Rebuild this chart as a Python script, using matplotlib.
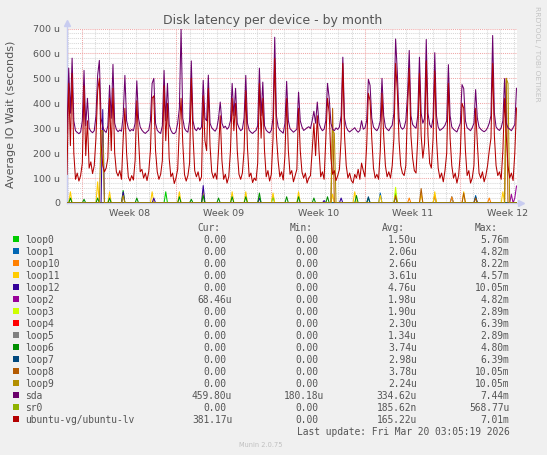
import numpy as np
import matplotlib
matplotlib.use('Agg')
import matplotlib.pyplot as plt
from matplotlib.patches import Rectangle

# ---------------- data ----------------
title = "Disk latency per device - by month"
ylabel = "Average IO Wait (seconds)"
week_labels = ["Week 08", "Week 09", "Week 10", "Week 11", "Week 12"]
ytick_vals = [0, 100, 200, 300, 400, 500, 600, 700]
ytick_labels = ["0", "100 u", "200 u", "300 u", "400 u", "500 u", "600 u", "700 u"]

# sda (3-hour samples, microseconds), one row per day
sda = [
    280, 541, 360, 581, 330, 290, 283, 278,
    285, 330, 532, 310, 420, 300, 288, 282,
    290, 350, 512, 572, 340, 305, 290, 283,
    310, 472, 340, 556, 320, 295, 286, 293,
    288, 350, 512, 330, 300, 288, 295, 290,
    320, 490, 340, 305, 292, 284, 279, 286,
    292, 330, 480, 500, 320, 292, 284, 279,
    310, 532, 330, 480, 315, 292, 280, 278,
    286, 320, 380, 700, 340, 300, 289, 284,
    330, 570, 330, 298, 290, 302, 294, 305,
    492, 340, 330, 513, 320, 302, 294, 288,
    300, 340, 405, 320, 302, 308, 296, 304,
    330, 480, 350, 460, 320, 302, 290, 296,
    340, 512, 320, 292, 284, 279, 286, 291,
    310, 541, 350, 485, 310, 292, 285, 281,
    292, 340, 665, 350, 305, 292, 286, 280,
    320, 488, 330, 298, 291, 284, 290, 296,
    445, 330, 305, 291, 296, 302, 306, 299,
    330, 368, 320, 405, 320, 301, 290, 296,
    330, 480, 420, 320, 296, 290, 301, 295,
    305, 350, 585, 340, 305, 291, 285, 291,
    296, 302, 291, 284, 291, 330, 296, 301,
    330, 496, 472, 340, 305, 296, 290, 302,
    330, 500, 350, 305, 296, 290, 302, 312,
    360, 658, 525, 340, 305, 296, 302, 330,
    435, 612, 350, 315, 306, 300, 350, 585,
    360, 320, 340, 656, 360, 315, 302, 340,
    603, 350, 305, 291, 296, 302, 312, 330,
    555, 350, 305, 296, 290, 285, 302, 320,
    475, 459, 330, 302, 296, 290, 302, 320,
    455, 340, 305, 296, 290, 286, 291, 302,
    320, 350, 672, 360, 305, 296, 291, 302,
    330, 499, 320, 302, 296, 290, 302, 315,
    460,
]

# ubuntu-vg/ubuntu-lv (3-hour samples, microseconds), one row per day
ubuntu_lv = [
    115, 480, 230, 520, 200, 95, 120, 88,
    110, 160, 470, 190, 330, 140, 165, 118,
    150, 260, 450, 500, 240, 150, 125, 140,
    180, 420, 210, 460, 200, 125, 108, 130,
    95, 260, 380, 200, 105, 88, 110, 92,
    170, 410, 260, 125, 135, 100, 120, 90,
    125, 210, 420, 430, 210, 125, 95, 115,
    170, 470, 250, 400, 180, 105, 120, 78,
    100, 135, 300, 420, 240, 115, 88, 110,
    160, 500, 270, 130, 105, 125, 88, 105,
    430, 250, 210, 460, 230, 125, 100, 120,
    95, 210, 350, 170, 95, 115, 80, 105,
    210, 420, 290, 400, 210, 115, 95, 120,
    210, 450, 220, 105, 120, 82, 100, 90,
    160, 480, 260, 420, 210, 105, 130, 88,
    115, 260, 580, 270, 170, 105, 125, 92,
    190, 420, 210, 115, 130, 85, 110, 135,
    380, 210, 125, 100, 120, 80, 100, 110,
    210, 320, 190, 350, 210, 105, 125, 95,
    260, 420, 360, 180, 115, 130, 90, 110,
    135, 260, 560, 270, 150, 100, 120, 90,
    80, 115, 100, 135, 95, 160, 130, 105,
    230, 440, 410, 260, 140, 100, 115, 95,
    210, 440, 270, 150, 105, 125, 100, 150,
    260, 560, 450, 250, 150, 120, 110, 150,
    380, 540, 270, 180, 130, 120, 260, 520,
    270, 180, 240, 570, 270, 160, 140, 260,
    530, 260, 140, 100, 120, 85, 130, 200,
    480, 260, 150, 100, 120, 80, 110, 200,
    400, 380, 210, 110, 130, 80, 100, 150,
    380, 240, 120, 100, 125, 85, 110, 150,
    210, 260, 560, 270, 150, 110, 125, 95,
    210, 420, 270, 150, 100, 120, 90, 200,
    381,
]

# small loop devices: (sample index, value) of their visible spikes, zero elsewhere
loop0_spikes = [(33, 50), (58, 45), (121, 25), (193, 40)]
loop1_spikes = [(184, 40), (193, 25), (216, 30), (226, 25), (240, 30)]
loop10_spikes = [(201, 20), (216, 30), (226, 25), (248, 20)]
loop11_spikes = [(2, 45), (18, 85), (25, 45), (50, 45), (66, 45), (80, 45), (97, 45),
                 (105, 45), (121, 40), (136, 45), (156, 35), (169, 45), (184, 30),
                 (208, 35), (216, 45), (233, 45), (256, 45)]
loop12_spikes = [(21, 375), (33, 45), (51, 20), (80, 70), (113, 20), (151, 10), (161, 20)]
loop2_spikes = [(261, 35), (263, 20), (264, 68)]
loop3_spikes = [(193, 63)]
loop4_spikes = []
loop5_spikes = []
loop6_spikes = [(2, 20), (10, 15), (18, 20), (25, 20), (41, 20), (66, 25), (73, 15),
                (80, 30), (89, 20), (97, 25), (105, 25), (113, 40), (129, 25), (136, 25),
                (145, 20), (153, 25), (170, 30), (177, 20)]
loop7_spikes = [(177, 25), (240, 25)]
loop8_spikes = [(156, 380), (193, 30), (208, 58), (233, 40), (240, 20), (258, 500)]
loop9_spikes = [(20, 290), (21, 290), (33, 30), (156, 290), (157, 280), (258, 500), (259, 480)]
sr0_spikes = []

series_names = ["loop0", "loop1", "loop10", "loop11", "loop12", "loop2", "loop3", "loop4",
                "loop5", "loop6", "loop7", "loop8", "loop9", "sda", "sr0",
                "ubuntu-vg/ubuntu-lv"]
series_colors = ["#00CC00", "#0066B3", "#FF8000", "#FFCC00", "#330099", "#990099",
                 "#CCFF00", "#FF0000", "#808080", "#008F00", "#00487D", "#B35A00",
                 "#B38F00", "#6B006B", "#8FB300", "#B30000"]
cur_vals = ["0.00", "0.00", "0.00", "0.00", "0.00", "68.46u", "0.00", "0.00", "0.00",
            "0.00", "0.00", "0.00", "0.00", "459.80u", "0.00", "381.17u"]
min_vals = ["0.00"] * 13 + ["180.18u", "0.00", "0.00"]
avg_vals = ["1.50u", "2.06u", "2.66u", "3.61u", "4.76u", "1.98u", "1.90u", "2.30u",
            "1.34u", "3.74u", "2.98u", "3.78u", "2.24u", "334.62u", "185.62n", "165.22u"]
max_vals = ["5.76m", "4.82m", "8.22m", "4.57m", "10.05m", "4.82m", "2.89m", "6.39m",
            "2.89m", "4.80m", "6.39m", "10.05m", "10.05m", "7.44m", "568.77u", "7.01m"]
last_update = "Last update: Fri Mar 20 03:05:19 2026"

# ---------------- layout ----------------
W, H = 547, 455
SPAN = 33.3     # days shown
WEEK0 = 1.11    # first week boundary (days from left edge)
TEXT = "#555555"

def fx(px):
    return px / W

def fy(py):
    return 1 - py / H

fig = plt.figure(figsize=(W / 100, H / 100), dpi=100, facecolor="#F0F0F0")
ax = fig.add_axes([fx(67), fy(203), 449.5 / W, 174.5 / H])
ax.set_facecolor("white")
ax.set_xlim(0, SPAN)
ax.set_ylim(0, 700)
for s in ax.spines.values():
    s.set_visible(False)

N = len(sda)
t = np.linspace(0, SPAN, N)

LW = 0.75
dot = (0, (1, 1))
# grid
for v in range(20, 701, 20):
    if v % 100:
        ax.axhline(v, color="#D8D8D8", lw=LW, ls=dot, zorder=0)
for v in range(100, 701, 100):
    ax.axhline(v, color="#F0A8A8", lw=LW, ls=dot, zorder=0.5)
d = WEEK0 - 1
while d < SPAN:
    if d > 0.05:
        k = round(d - WEEK0)
        if k % 7 == 0:
            ax.axvline(d, color="#F0A8A8", lw=LW, ls=dot, zorder=0.5)
        else:
            ax.axvline(d, color="#D8D8D8", lw=LW, ls=dot, zorder=0)
    d += 1

# axes lines and arrows
AX = "#C8CCF0"
ax.plot([0, 0], [0, 1.02], transform=ax.transAxes, color=AX, lw=1, clip_on=False, zorder=1)
ax.plot([0], [1.03], marker="^", ms=4.2, color=AX, mec=AX, transform=ax.transAxes,
        clip_on=False, zorder=1)
ax.plot([0, 1.004], [0, 0], transform=ax.transAxes, color=AX, lw=1, clip_on=False, zorder=1)
ax.plot([1.011], [0], marker=">", ms=4.2, color=AX, mec=AX, transform=ax.transAxes,
        clip_on=False, zorder=1)

spike_lists = [loop0_spikes, loop1_spikes, loop10_spikes, loop11_spikes, loop12_spikes,
               loop2_spikes, loop3_spikes, loop4_spikes, loop5_spikes, loop6_spikes,
               loop7_spikes, loop8_spikes, loop9_spikes, None, sr0_spikes, None]
full = {"sda": sda, "ubuntu-vg/ubuntu-lv": ubuntu_lv}

for z, (name, col, sp) in enumerate(zip(series_names, series_colors, spike_lists)):
    if name in full:
        y = np.array(full[name], dtype=float)
    else:
        y = np.zeros(N)
        for i, v in sp:
            y[i] = v
    ax.plot(t, y, color=col, lw=LW, zorder=2 + z, clip_on=True)

# ticks
ax.set_yticks(ytick_vals)
ax.set_yticklabels(ytick_labels)
ax.tick_params(axis="y", length=0, pad=5.0, labelsize=6.8, labelcolor=TEXT)
ax.set_xticks([])
for k, lab in enumerate(week_labels):
    ax.text(WEEK0 + 3.5 + 7 * k, (203 - 215.8) / 174.5, lab, transform=ax.get_xaxis_transform(),
            ha="center", va="baseline", fontsize=6.8, color=TEXT)

# titles
fig.text(fx(272.8), fy(24.3), title, ha="center", va="baseline", fontsize=9, color=TEXT)
fig.text(fx(11.2), fy(114), ylabel, rotation=90, ha="center", va="center", fontsize=8,
         color=TEXT)
fig.text(fx(537.5), fy(53.4), "RRDTOOL / TOBI OETIKER", rotation=270, ha="center",
         va="center", fontsize=5.4, color="#C4C4C4")

# legend
MONO = "DejaVu Sans Mono"
FS = 6.9
CW = 0.602 * FS * 100 / 72   # monospace advance in pixels
for hx, ht in [(197.7, "Cur:"), (290, "Min:"), (382, "Avg:"), (474.7, "Max:")]:
    fig.text(fx(hx), fy(231), ht, ha="left", va="baseline", family=MONO, fontsize=FS, color=TEXT)

col_ends = [226.5, 318.3, 411.0, 503.6]

def num_len(v):
    return len(v) - 1 if v[-1].isalpha() else len(v)

for k, name in enumerate(series_names):
    base = 243.2 + 12 * k
    fig.patches.append(Rectangle((fx(13.4), fy(base - 1.0)), 5.8 / W, 5.8 / H,
                                 transform=fig.transFigure, facecolor=series_colors[k],
                                 edgecolor="none"))
    fig.text(fx(25), fy(base), name, ha="left", va="baseline", family=MONO, fontsize=FS,
             color=TEXT)
    for xe, vals in zip(col_ends, [cur_vals, min_vals, avg_vals, max_vals]):
        v = vals[k]
        fig.text(fx(xe - num_len(v) * CW), fy(base), v, ha="left", va="baseline",
                 family=MONO, fontsize=FS, color=TEXT)

fig.text(fx(509.3), fy(435.3), last_update, ha="right", va="baseline", family=MONO,
         fontsize=FS, color=TEXT)
fig.text(fx(260.7), fy(447), "Munin 2.0.75", ha="center", va="baseline", fontsize=4.8,
         color="#C0C0C0")

fig.savefig("out.png", dpi=100, facecolor=fig.get_facecolor())
